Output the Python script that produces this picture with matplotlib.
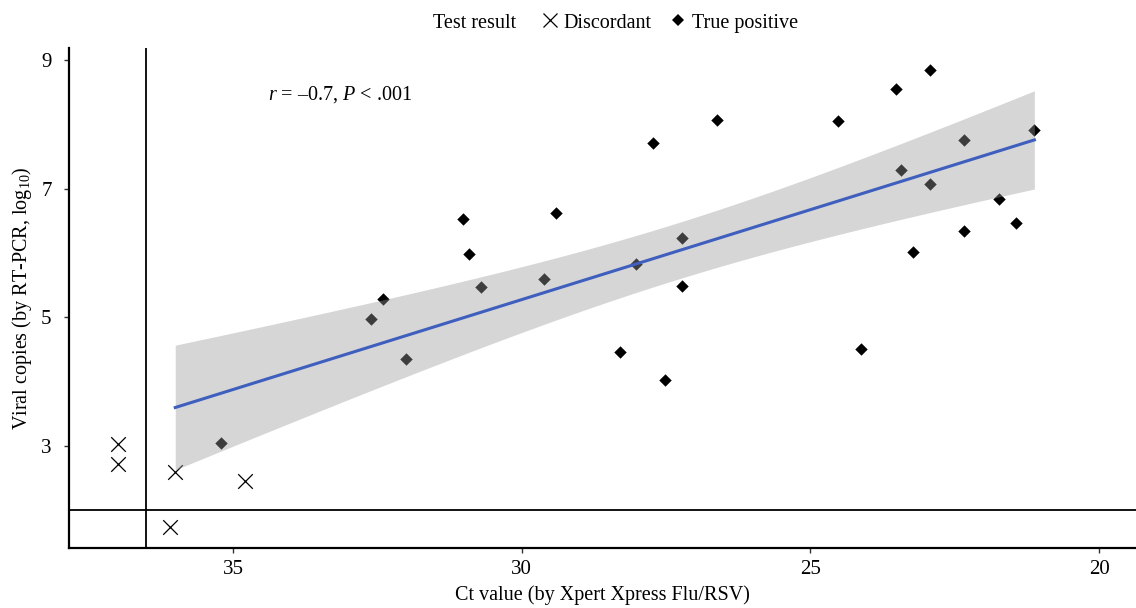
import numpy as np
import matplotlib
matplotlib.use("Agg")
import matplotlib.pyplot as plt
from matplotlib.lines import Line2D

plt.rcParams['font.family'] = ['Liberation Serif', 'DejaVu Serif']
plt.rcParams['mathtext.fontset'] = 'custom'
plt.rcParams['mathtext.rm'] = 'Liberation Serif'
plt.rcParams['mathtext.it'] = 'Liberation Serif:italic'

# True positive results: Ct value vs log10 viral copies
tp_ct = [35.21, 32.61, 32.40, 32.00, 31.02, 30.91, 30.70, 29.61, 29.40, 28.30,
         28.02, 27.72, 27.52, 27.22, 27.22, 26.62, 24.52, 24.12, 23.52, 23.43,
         23.22, 22.93, 22.93, 22.34, 22.34, 21.73, 21.44, 21.12]
tp_log = [3.05, 4.97, 5.29, 4.35, 6.53, 5.98, 5.47, 5.60, 6.62, 4.46,
          5.83, 7.71, 4.03, 6.23, 5.49, 8.07, 8.05, 4.51, 8.55, 7.29,
          6.02, 8.84, 7.07, 6.34, 7.76, 6.84, 6.47, 7.91]

# Discordant results
dc_ct = [37.0, 37.0, 36.0, 34.79, 36.09]
dc_log = [3.03, 2.72, 2.59, 2.46, 1.74]

ct_cutoff = 36.5
log_cutoff = 2.0
xticks = [35, 30, 25, 20]
yticks = [3, 5, 7, 9]

fig = plt.figure(figsize=(11.36, 6.08), dpi=100)
ax = fig.add_axes([69/1136, 1 - 548/608, 1 - 69/1136, (548 - 48)/608])

ax.scatter(tp_ct, tp_log, marker='D', s=40, color='black', linewidths=0, zorder=2)
ax.scatter(dc_ct, dc_log, marker='x', s=110, color='black', linewidths=0.9, zorder=2)

# linear fit on points within the cutoffs
all_x = np.array(tp_ct + dc_ct)
all_y = np.array(tp_log + dc_log)
m = (all_x < ct_cutoff) & (all_y > log_cutoff)
fx, fy = all_x[m], all_y[m]
n = len(fx)
b1, b0 = np.polyfit(fx, fy, 1)
resid = fy - (b0 + b1 * fx)
s = np.sqrt(np.sum(resid**2) / (n - 2))
xg = np.linspace(fx.min(), fx.max(), 200)
yg = b0 + b1 * xg
se = s * np.sqrt(1/n + (xg - fx.mean())**2 / np.sum((fx - fx.mean())**2))
tcrit = 2.048
ax.fill_between(xg, yg - tcrit*se, yg + tcrit*se, color='#999999', alpha=0.4,
                linewidth=0, zorder=3)
ax.plot(xg, yg, color='#3F5FBF', lw=2.2, zorder=4)

ax.axvline(ct_cutoff, color='black', lw=1.3, zorder=1)
ax.axhline(log_cutoff, color='black', lw=1.3, zorder=1)

ax.set_xlim(37.84, 19.36)
ax.set_ylim(1.41, 9.19)
ax.set_xticks(xticks)
ax.set_yticks(yticks)
ax.tick_params(labelsize=15, length=3.5, width=1, color='#333333')
ax.tick_params(axis='y', pad=9)
ax.tick_params(axis='x', pad=5)
for side in ['top', 'right']:
    ax.spines[side].set_visible(False)
for side in ['left', 'bottom']:
    ax.spines[side].set_linewidth(1.6)

ax.set_xlabel('Ct value (by Xpert Xpress Flu/RSV)', fontsize=14.5, labelpad=5)
ax.set_ylabel(r'Viral copies (by RT-PCR, log$_{10}$)', fontsize=14.5, labelpad=5)

ax.text(34.4, 8.46, r'$r$ = –0.7, $P$ < .001', fontsize=14.5, ha='left', va='center')

fig.text(475/1136, 1 - 23/608, 'Test result', fontsize=14.5, ha='center', va='center')
handles = [Line2D([], [], marker='x', color='black', ls='none', markersize=10, markeredgewidth=0.9),
           Line2D([], [], marker='D', color='black', ls='none', markersize=6, markeredgewidth=0)]
fig.legend(handles, ['Discordant', 'True positive'], ncol=2, loc='center',
           bbox_to_anchor=(669/1136, 1 - 23/608), frameon=False, fontsize=14.5,
           handlelength=1.0, handletextpad=0.2, columnspacing=0.8, borderpad=0)

fig.savefig('out.png', dpi=100)
